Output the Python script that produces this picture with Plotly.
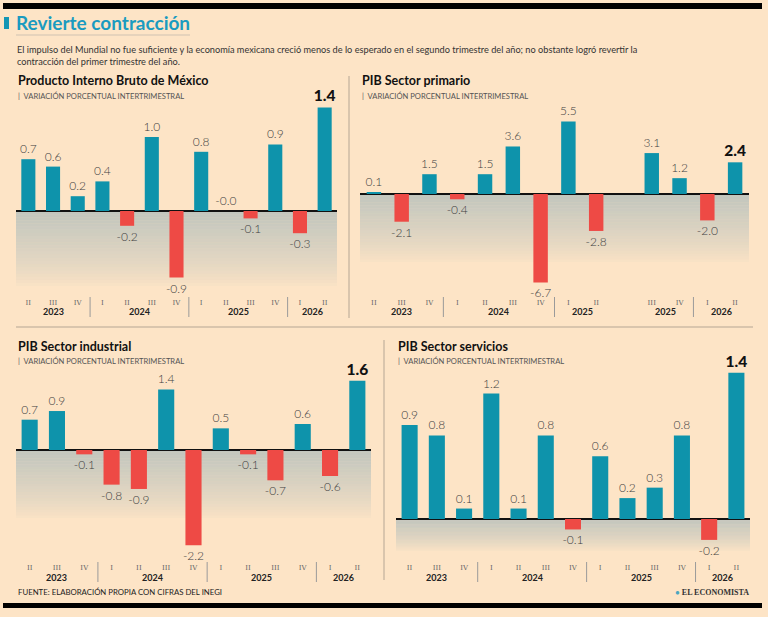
import plotly.graph_objects as go

# ---- data ----
quarters = ["II", "III", "IV", "I", "II", "III", "IV", "I", "II", "III", "IV", "I", "II"]
years = ["2023"] * 3 + ["2024"] * 4 + ["2025"] * 4 + ["2026"] * 2
years_primario = ["2023"] * 3 + ["2024"] * 4 + ["2025"] * 2 + ["2025"] * 2 + ["2026"] * 2

pib_total = [0.7, 0.6, 0.2, 0.4, -0.2, 1.0, -0.9, 0.8, -0.0, -0.1, 0.9, -0.3, 1.4]
pib_primario = [0.1, -2.1, 1.5, -0.4, 1.5, 3.6, -6.7, 5.5, -2.8, 3.1, 1.2, -2.0, 2.4]
pib_industrial = [0.7, 0.9, -0.1, -0.8, -0.9, 1.4, -2.2, 0.5, -0.1, -0.7, 0.6, -0.6, 1.6]
pib_servicios = [0.9, 0.8, 0.1, 1.2, 0.1, 0.8, -0.1, 0.6, 0.2, 0.3, 0.8, -0.2, 1.4]

TITLE = "Revierte contracción"
INTRO = ("El impulso del Mundial no fue suficiente y la economía mexicana creció menos de lo esperado "
         "en el segundo trimestre del año; no obstante logró revertir la<br>contracción del primer trimestre del año.")
SUBTITLE = "VARIACIÓN PORCENTUAL INTERTRIMESTRAL"
SOURCE = "FUENTE: ELABORACIÓN PROPIA CON CIFRAS DEL INEGI"

W, H = 768, 617
BG = "#FDE4C6"
TEAL = "#0E93AB"
RED = "#EE4A45"
FONT = "Lato"


def px(x):
    return x / W


def py(y):
    return 1 - y / H


# panel geometry in pixels
panels = [
    dict(values=pib_total, years=years, title="Producto Interno Bruto de México",
         x0=16, x1=337, top=100, bottom=297, zero=211, scale=74, fade=75, gap_after=None, width=0.57),
    dict(values=pib_primario, years=years_primario, title="PIB Sector primario",
         x0=360, x1=749, top=100, bottom=297, zero=194, scale=13.2, fade=68, gap_after=8, width=0.52),
    dict(values=pib_industrial, years=years, title="PIB Sector industrial",
         x0=16, x1=371, top=365, bottom=562, zero=450, scale=43.3, fade=68, gap_after=None, width=0.59),
    dict(values=pib_servicios, years=years, title="PIB Sector servicios",
         x0=396, x1=750, top=365, bottom=562, zero=519, scale=104.5, fade=32, gap_after=None, width=0.59),
]

fig = go.Figure()
shapes = []
annotations = []
layout = {}


def note(x, y, text, size, color, family=FONT, xanchor="left", xref="paper", **kw):
    annotations.append(dict(
        x=x, y=y, xref=xref, yref="paper", xanchor=xanchor, yanchor="middle", text=text,
        showarrow=False, font=dict(family=family, size=size, color=color), **kw,
    ))


for i, p in enumerate(panels, start=1):
    s = "" if i == 1 else str(i)
    vals = p["values"]
    n = len(vals)
    labels = [f"{q} {y} {k}" for k, (q, y) in enumerate(zip(quarters, p["years"]))]

    # category slots (optional empty slot)
    cats = []
    slot_of = []
    for k, lab in enumerate(labels):
        cats.append(lab)
        slot_of.append(len(cats) - 1)
        if p["gap_after"] is not None and k == p["gap_after"]:
            cats.append("gap")
    has_gap = "gap" in cats
    xs = list(labels) + (["gap"] if has_gap else [])
    ys = list(vals) + ([None] if has_gap else [])

    extra = 1 if has_gap else 0
    text = [f"{v:.1f}" for v in vals] + [""] * extra
    colors = [TEAL if v >= 0 else RED for v in vals] + [TEAL] * extra
    sizes = [12] * (n - 1) + [15.5] + [12] * extra
    weights = [300] * (n - 1) + [900] + [300] * extra
    tcolors = ["#404040"] * (n - 1) + ["#111111"] + ["#404040"] * extra

    fig.add_trace(go.Bar(
        x=xs, y=ys, xaxis=f"x{s}", yaxis=f"y{s}",
        marker=dict(color=colors, line=dict(width=0)),
        width=p["width"],
        text=text, textposition="outside", cliponaxis=False, constraintext="none",
        textfont=dict(family=FONT, size=sizes, color=tcolors, weight=weights),
        hoverinfo="skip", showlegend=False,
    ))

    ymax = (p["zero"] - p["top"]) / p["scale"]
    ymin = -(p["bottom"] - p["zero"]) / p["scale"]
    layout[f"xaxis{s}"] = dict(
        domain=[px(p["x0"]), px(p["x1"])], anchor=f"y{s}", type="category",
        categoryorder="array", categoryarray=cats, range=[-0.5, len(cats) - 0.5],
        tickvals=labels, ticktext=quarters, ticks="", showgrid=False, showline=False,
        zeroline=False, tickfont=dict(family="DejaVu Serif", size=7, color="#666666"), fixedrange=True,
    )
    layout[f"yaxis{s}"] = dict(
        domain=[py(p["bottom"]), py(p["top"])], anchor=f"x{s}", range=[ymin, ymax],
        showticklabels=False, showgrid=False, ticks="", showline=False,
        zeroline=True, zerolinecolor="#111111", zerolinewidth=1.5, fixedrange=True,
    )

    # fading band under the zero line
    steps = 24
    for j in range(steps):
        t = j / steps
        shapes.append(dict(
            type="rect", xref=f"x{s} domain", yref="paper", x0=0, x1=1,
            y0=py(p["zero"] + p["fade"] * (j + 1) / steps), y1=py(p["zero"] + p["fade"] * j / steps),
            fillcolor=f"rgba(135,168,182,{0.5 * (1 - t) ** 0.8:.3f})", line=dict(width=0), layer="below",
        ))

    # year labels and separators
    groups = []
    for k, y in enumerate(p["years"]):
        slot = slot_of[k]
        if groups and groups[-1][0] == y and slot == groups[-1][2] + 1:
            groups[-1][2] = slot
        else:
            groups.append([y, slot, slot])
    for gi, (y, a, b) in enumerate(groups):
        note((a + b) / 2, py(p["bottom"] + 15), f"<b>{y}</b>", 9, "#222222",
             xanchor="center", xref=f"x{s}")
        if gi > 0 and groups[gi - 1][0] != y:
            xs_sep = (groups[gi - 1][2] + a) / 2
            shapes.append(dict(
                type="line", xref=f"x{s}", yref="paper", x0=xs_sep, x1=xs_sep,
                y0=py(p["bottom"] + 20), y1=py(p["bottom"]), line=dict(color="#9a9a9a", width=1),
            ))

    # panel titles
    note(px(p["x0"]), py(p["top"] - 19), f"<b>{p['title']}</b>", 12.5, "#111111")
    note(px(p["x0"]), py(p["top"] - 4), f"|  {SUBTITLE}", 7.6, "#555555")

# frame decorations
shapes += [
    dict(type="rect", xref="paper", yref="paper", x0=px(3), x1=px(762), y0=py(9), y1=py(3),
         fillcolor="#000000", line=dict(width=0)),
    dict(type="rect", xref="paper", yref="paper", x0=px(3), x1=px(762), y0=py(608), y1=py(603),
         fillcolor="#000000", line=dict(width=0)),
    dict(type="rect", xref="paper", yref="paper", x0=px(4), x1=px(9), y0=py(29), y1=py(17),
         fillcolor="#1496B4", line=dict(width=0)),
    dict(type="line", xref="paper", yref="paper", x0=px(16), x1=px(190), y0=py(35), y1=py(35),
         line=dict(color="#cfc2b2", width=1)),
    dict(type="line", xref="paper", yref="paper", x0=px(349), x1=px(349), y0=py(318), y1=py(76),
         line=dict(color="#b5a694", width=1)),
    dict(type="line", xref="paper", yref="paper", x0=px(16), x1=px(753), y0=py(327), y1=py(327),
         line=dict(color="#b5a694", width=1)),
    dict(type="line", xref="paper", yref="paper", x0=px(384), x1=px(384), y0=py(580), y1=py(340),
         line=dict(color="#b5a694", width=1)),
]

note(px(14), py(23), f"<b>{TITLE}</b>", 19, "#1A9BC0")
note(px(15), py(55), INTRO, 9.2, "#333333", align="left")
note(px(16), py(592), SOURCE, 7.8, "#222222")
note(px(751), py(592), "<span style='color:#4aa6c0'>●</span> <b>EL ECONOMISTA</b>", 8, "#333333",
     family="Liberation Serif", xanchor="right")

fig.update_layout(
    width=W, height=H, margin=dict(l=0, r=0, t=0, b=0),
    paper_bgcolor=BG, plot_bgcolor="rgba(0,0,0,0)",
    shapes=shapes, annotations=annotations, showlegend=False,
    **layout,
)

fig.write_html("out.html", config={"displayModeBar": False},
               post_script="document.body.style.margin='0';")
